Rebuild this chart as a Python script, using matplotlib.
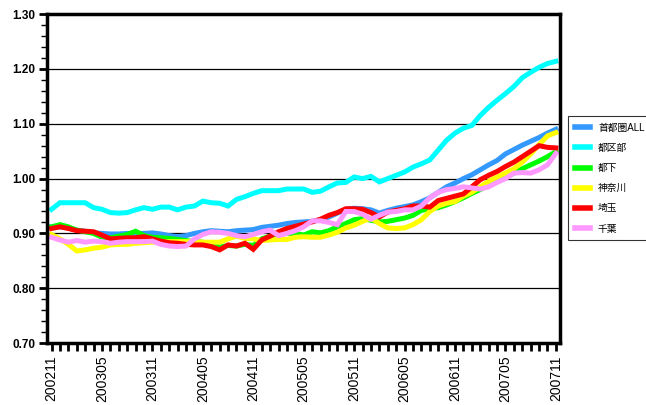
import matplotlib
matplotlib.use("Agg")
import matplotlib.pyplot as plt
from matplotlib.ticker import MultipleLocator

plt.rcParams["font.family"] = ["Liberation Sans", "Noto Sans CJK JP"]

# ---- data (monthly, 200211 .. 200711) ---------------------------------------
months = []
y, m = 2002, 11
while (y, m) <= (2007, 11):
    months.append(f"{y}{m:02d}")
    m += 1
    if m > 12:
        y, m = y + 1, 1

all_area = [0.912, 0.912, 0.910, 0.906, 0.904, 0.901, 0.900, 0.899, 0.899, 0.900,
            0.900, 0.900, 0.901, 0.899, 0.896, 0.894, 0.896, 0.900, 0.903, 0.905,
            0.904, 0.903, 0.905, 0.906, 0.907, 0.911, 0.913, 0.915, 0.918, 0.920,
            0.921, 0.922, 0.925, 0.930, 0.937, 0.944, 0.946, 0.945, 0.943, 0.937,
            0.942, 0.946, 0.949, 0.952, 0.958, 0.965, 0.975, 0.985, 0.992, 1.000,
            1.007, 1.016, 1.025, 1.033, 1.045, 1.053, 1.061, 1.068, 1.075, 1.083,
            1.090]
tokyo23 = [0.944, 0.956, 0.956, 0.956, 0.956, 0.947, 0.944, 0.938, 0.937, 0.938,
           0.943, 0.947, 0.944, 0.948, 0.948, 0.943, 0.948, 0.950, 0.959, 0.956,
           0.955, 0.950, 0.962, 0.967, 0.973, 0.978, 0.978, 0.978, 0.981, 0.981,
           0.981, 0.975, 0.977, 0.985, 0.992, 0.993, 1.003, 1.000, 1.004, 0.994,
           1.000, 1.006, 1.012, 1.021, 1.027, 1.034, 1.052, 1.070, 1.083, 1.092,
           1.097, 1.115, 1.130, 1.143, 1.155, 1.168, 1.184, 1.194, 1.203, 1.210,
           1.214]
tama = [0.912, 0.916, 0.912, 0.906, 0.903, 0.900, 0.893, 0.892, 0.895, 0.898,
        0.904, 0.896, 0.893, 0.892, 0.891, 0.889, 0.887, 0.885, 0.884, 0.880,
        0.875, 0.878, 0.877, 0.880, 0.878, 0.890, 0.895, 0.899, 0.900, 0.900,
        0.897, 0.903, 0.901, 0.905, 0.912, 0.918, 0.925, 0.927, 0.924, 0.921,
        0.922, 0.925, 0.928, 0.933, 0.942, 0.945, 0.947, 0.952, 0.958, 0.965,
        0.973, 0.980, 0.988, 0.995, 1.002, 1.010, 1.018, 1.025, 1.032, 1.040,
        1.049]
kanagawa = [0.898, 0.890, 0.880, 0.868, 0.870, 0.873, 0.875, 0.879, 0.880, 0.880,
            0.882, 0.883, 0.884, 0.884, 0.885, 0.885, 0.885, 0.885, 0.884, 0.884,
            0.884, 0.890, 0.895, 0.891, 0.890, 0.887, 0.888, 0.889, 0.889, 0.893,
            0.894, 0.893, 0.893, 0.897, 0.902, 0.910, 0.915, 0.922, 0.928, 0.918,
            0.910, 0.909, 0.910, 0.916, 0.925, 0.940, 0.950, 0.955, 0.958, 0.968,
            0.975, 0.985, 0.995, 1.003, 1.010, 1.018, 1.030, 1.045, 1.062, 1.078,
            1.084]
saitama = [0.909, 0.912, 0.909, 0.905, 0.904, 0.903, 0.897, 0.890, 0.891, 0.892,
           0.892, 0.894, 0.890, 0.886, 0.883, 0.882, 0.880, 0.879, 0.879, 0.876,
           0.870, 0.879, 0.877, 0.882, 0.871, 0.888, 0.895, 0.903, 0.909, 0.913,
           0.917, 0.921, 0.926, 0.933, 0.938, 0.945, 0.945, 0.944, 0.938, 0.930,
           0.939, 0.942, 0.945, 0.950, 0.950, 0.948, 0.960, 0.964, 0.968, 0.972,
           0.985, 0.998, 1.006, 1.013, 1.022, 1.030, 1.040, 1.050, 1.060, 1.057,
           1.056]
chiba = [0.893, 0.888, 0.884, 0.887, 0.884, 0.886, 0.885, 0.882, 0.884, 0.885,
         0.885, 0.885, 0.886, 0.880, 0.877, 0.876, 0.877, 0.890, 0.898, 0.903,
         0.902, 0.900, 0.896, 0.894, 0.898, 0.903, 0.906, 0.896, 0.900, 0.905,
         0.912, 0.923, 0.923, 0.920, 0.916, 0.940, 0.940, 0.935, 0.926, 0.933,
         0.939, 0.940, 0.943, 0.943, 0.950, 0.965, 0.975, 0.980, 0.982, 0.985,
         0.983, 0.981, 0.985, 0.993, 1.000, 1.010, 1.011, 1.010, 1.016, 1.025,
         1.046]

labels = ["首都圏ALL", "都区部", "都下", "神奈川", "埼玉", "千葉"]
colors = ["#3399FF", "#00FFFF", "#00FF00", "#FFFF00", "#FF0000", "#FF99FF"]
series = [all_area, tokyo23, tama, kanagawa, saitama, chiba]

# ---- plot -------------------------------------------------------------------
fig = plt.figure(figsize=(6.46, 4.05), dpi=100)
ax = fig.add_axes([0.072, 0.153, 0.795, 0.812])

x = list(range(len(months)))
for vals, lab, col in zip(series, labels, colors):
    ax.plot(x, vals, color=col, linewidth=3.6, label=lab, solid_joinstyle="miter")

ax.set_xlim(-0.6, len(months) - 0.5)
ax.set_ylim(0.70, 1.30)

ax.yaxis.set_minor_locator(MultipleLocator(0.02))
ax.set_yticks([0.7 + 0.1 * i for i in range(7)])
ax.set_yticklabels([f"{0.7 + 0.1 * i:.2f}" for i in range(7)],
                   fontsize=8.5, fontweight="bold")

ax.set_xticks(x, minor=True)
ax.set_xticks(x[::6])
ax.set_xticklabels(months[::6], rotation=90, fontsize=10)

ax.tick_params(axis="y", which="major", direction="out", length=6, width=2, pad=2)
ax.tick_params(axis="y", which="minor", direction="out", length=4, width=1)
ax.tick_params(axis="x", which="both", direction="out", length=6, width=2, pad=3)

ax.grid(True, axis="y", which="major", color="black", linewidth=0.9)
ax.set_axisbelow(True)
for sp in ax.spines.values():
    sp.set_linewidth(2.5)

leg = fig.legend(loc="upper left", bbox_to_anchor=(0.879, 0.714),
                 fontsize=7, frameon=True, fancybox=False, edgecolor="black",
                 handlelength=1.6, handletextpad=0.8, labelspacing=1.05,
                 borderpad=0.7, borderaxespad=0)
leg.get_frame().set_linewidth(0.8)
for h in leg.get_lines():
    h.set_linewidth(4)

fig.savefig("out.png", dpi=100)
